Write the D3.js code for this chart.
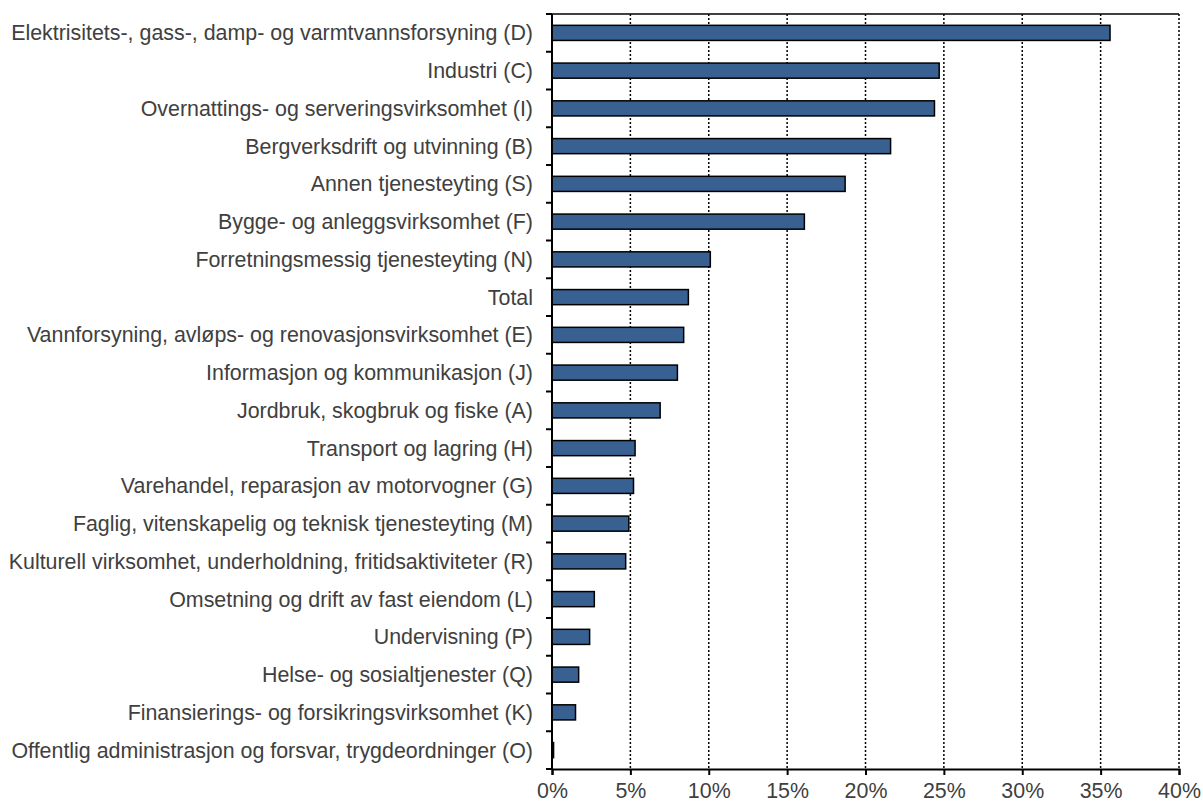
<!DOCTYPE html>
<html>
<head>
<meta charset="utf-8">
<script src="https://cdn.jsdelivr.net/npm/d3@7"></script>
<style>
  body { margin: 0; background: #fff; }
  text { font-family: "Liberation Sans", Arial, sans-serif; }
</style>
</head>
<body>
<div id="chart"></div>
<script>
// categories, top to bottom
var categories = [
  "Elektrisitets-, gass-, damp- og varmtvannsforsyning (D)",
  "Industri (C)",
  "Overnattings- og serveringsvirksomhet (I)",
  "Bergverksdrift og utvinning (B)",
  "Annen tjenesteyting (S)",
  "Bygge- og anleggsvirksomhet (F)",
  "Forretningsmessig tjenesteyting (N)",
  "Total",
  "Vannforsyning, avløps- og renovasjonsvirksomhet (E)",
  "Informasjon og kommunikasjon (J)",
  "Jordbruk, skogbruk og fiske (A)",
  "Transport og lagring (H)",
  "Varehandel, reparasjon av motorvogner (G)",
  "Faglig, vitenskapelig og teknisk tjenesteyting (M)",
  "Kulturell virksomhet, underholdning, fritidsaktiviteter (R)",
  "Omsetning og drift av fast eiendom (L)",
  "Undervisning (P)",
  "Helse- og sosialtjenester (Q)",
  "Finansierings- og forsikringsvirksomhet (K)",
  "Offentlig administrasjon og forsvar, trygdeordninger (O)"
];

// share in percent
var values = [35.6, 24.7, 24.4, 21.6, 18.7, 16.1, 10.1, 8.7, 8.4, 8.0,
              6.9, 5.3, 5.2, 4.9, 4.7, 2.7, 2.4, 1.7, 1.5, 0.1];

var xTicks = [0, 5, 10, 15, 20, 25, 30, 35, 40];

var margin = {top: 14, right: 24, bottom: 33, left: 552},
    width = 1203 - margin.left - margin.right,
    height = 802 - margin.top - margin.bottom;

var svg = d3.select("#chart")
  .append("svg")
    .attr("width", width + margin.left + margin.right)
    .attr("height", height + margin.top + margin.bottom)
  .append("g")
    .attr("transform", "translate(" + margin.left + "," + margin.top + ")");

var data = categories.map(function(c, i) { return {name: c, value: values[i]}; });

var x = d3.scaleLinear()
  .domain([0, 40])
  .range([0, width]);

var y = d3.scaleBand()
  .domain(categories)
  .range([0, height])
  .paddingInner(0.6)
  .paddingOuter(0.3);

// dotted gridlines
svg.selectAll(".grid")
  .data(xTicks.slice(1))
  .enter().append("line")
    .attr("x1", function(d) { return x(d); })
    .attr("x2", function(d) { return x(d); })
    .attr("y1", 0)
    .attr("y2", height)
    .attr("stroke", "#000")
    .attr("stroke-width", 1.5)
    .attr("stroke-dasharray", "2,2");

// top border
svg.append("line")
  .attr("x1", -6).attr("x2", width)
  .attr("y1", 0).attr("y2", 0)
  .attr("stroke", "#000")
  .attr("stroke-width", 1.5);

// bars
svg.selectAll(".bar")
  .data(data)
  .enter().append("rect")
    .attr("x", x(0))
    .attr("y", function(d) { return y(d.name); })
    .attr("width", function(d) { return x(d.value) - x(0); })
    .attr("height", y.bandwidth())
    .attr("fill", "#386192")
    .attr("stroke", "#000")
    .attr("stroke-width", 1.5);

// x axis
var xAxis = svg.append("g")
  .attr("transform", "translate(0," + height + ")")
  .call(d3.axisBottom(x).tickValues(xTicks).tickSize(6).tickPadding(8)
    .tickFormat(function(d) { return d + "%"; }));
xAxis.select(".domain").attr("stroke-width", 2);
xAxis.selectAll(".tick line").attr("stroke-width", 2);
xAxis.selectAll("text")
  .attr("font-size", 21.4)
  .attr("fill", "#404040");

// y axis: ticks sit on the band boundaries
var bounds = d3.range(categories.length + 1).map(function(i) { return i * height / categories.length; });
svg.append("line")
  .attr("x1", 0).attr("x2", 0)
  .attr("y1", 0).attr("y2", height)
  .attr("stroke", "#000")
  .attr("stroke-width", 2);
svg.selectAll(".ytick")
  .data(bounds)
  .enter().append("line")
    .attr("x1", -6).attr("x2", 0)
    .attr("y1", function(d) { return d; })
    .attr("y2", function(d) { return d; })
    .attr("stroke", "#000")
    .attr("stroke-width", 2);

svg.selectAll(".ylabel")
  .data(categories)
  .enter().append("text")
    .attr("x", -19)
    .attr("y", function(d) { return y(d) + y.bandwidth() / 2; })
    .attr("dy", "0.35em")
    .attr("text-anchor", "end")
    .attr("font-size", 21.4)
    .attr("fill", "#404040")
    .text(function(d) { return d; });
</script>
</body>
</html>
